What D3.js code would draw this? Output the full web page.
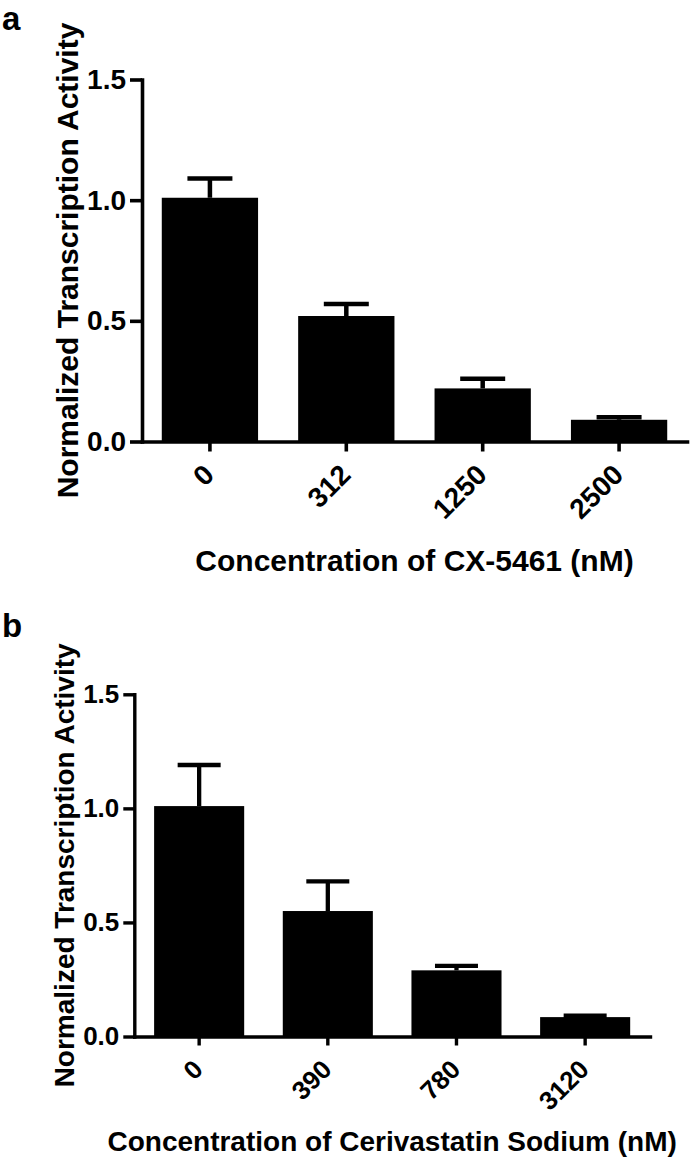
<!DOCTYPE html>
<html>
<head>
<meta charset="utf-8">
<script src="https://cdnjs.cloudflare.com/ajax/libs/d3/7.8.5/d3.min.js"></script>
<style>
  body { margin: 0; background: #fff; }
  svg text { font-family: "Liberation Sans", Arial, sans-serif; font-weight: bold; fill: #000; }
</style>
</head>
<body>
<div id="chart"></div>
<script>
// panel a: CX-5461
var concA = ["0", "312", "1250", "2500"];
var meanA = [1.01, 0.52, 0.22, 0.09];
var semA  = [0.08, 0.05, 0.04, 0.01];

// panel b: Cerivastatin Sodium
var concB = ["0", "390", "780", "3120"];
var meanB = [1.01, 0.55, 0.29, 0.085];
var semB  = [0.18, 0.13, 0.02, 0.006];

var yTicks = [0, 0.5, 1.0, 1.5];

var svg = d3.select("#chart")
  .append("svg")
    .attr("width", 690)
    .attr("height", 1159);

function drawPanel(p) {
  var g = svg.append("g");

  var x = d3.scaleBand()
    .domain(p.cats)
    .range([p.left, p.right])
    .paddingInner(p.padIn)
    .paddingOuter(p.padOut);

  var y = d3.scaleLinear()
    .domain([0, 1.5])
    .range([p.bottom, p.top]);

  var data = p.cats.map(function(c, i) { return {cat: c, mean: p.mean[i], err: p.err[i]}; });

  // bars
  g.selectAll("rect.bar")
    .data(data)
    .enter()
    .append("rect")
      .attr("class", "bar")
      .attr("x", d => x(d.cat))
      .attr("width", x.bandwidth())
      .attr("y", d => y(d.mean))
      .attr("height", d => y(0) - y(d.mean))
      .style("fill", "#000");

  // error bars (upper only)
  g.selectAll("line.stem")
    .data(data)
    .enter()
    .append("line")
      .attr("x1", d => x(d.cat) + x.bandwidth() / 2)
      .attr("x2", d => x(d.cat) + x.bandwidth() / 2)
      .attr("y1", d => y(d.mean))
      .attr("y2", d => y(d.mean + d.err))
      .style("stroke", "#000")
      .style("stroke-width", p.errW);

  g.selectAll("line.cap")
    .data(data)
    .enter()
    .append("line")
      .attr("x1", d => x(d.cat) + x.bandwidth() / 2 - p.capW / 2)
      .attr("x2", d => x(d.cat) + x.bandwidth() / 2 + p.capW / 2)
      .attr("y1", d => y(d.mean + d.err))
      .attr("y2", d => y(d.mean + d.err))
      .style("stroke", "#000")
      .style("stroke-width", p.errW);

  // Y axis
  var yAxis = g.append("g")
    .attr("transform", "translate(" + p.left + ",0)")
    .call(d3.axisLeft(y).tickValues(yTicks).tickFormat(d3.format(".1f"))
      .tickSize(p.tickLen).tickSizeOuter(0).tickPadding(4));

  // X axis
  var xAxis = g.append("g")
    .attr("transform", "translate(0," + p.bottom + ")")
    .call(d3.axisBottom(x).tickSize(p.tickLen - 2).tickSizeOuter(0));

  [yAxis, xAxis].forEach(function(ax) {
    ax.select(".domain").style("stroke", "#000").style("stroke-width", p.axisW).style("stroke-linecap", "square");
    ax.selectAll(".tick line").style("stroke", "#000").style("stroke-width", p.axisW);
    ax.selectAll("text").style("font-size", p.tickFont + "px").style("font-family", null);
  });

  xAxis.selectAll("text")
    .attr("text-anchor", "end")
    .attr("y", 0)
    .attr("dy", "0.35em")
    .attr("transform", "translate(" + p.xLabDx + "," + p.xLabDy + ") rotate(-45)");

  // axis titles
  g.append("text")
    .attr("x", (p.left + p.right) / 2)
    .attr("y", p.xTitleY)
    .attr("text-anchor", "middle")
    .style("font-size", p.titleFont + "px")
    .text(p.xTitle);

  g.append("text")
    .attr("transform", "translate(" + p.yTitleX + "," + (p.top + p.bottom) / 2 + ") rotate(-90)")
    .attr("text-anchor", "middle")
    .style("font-size", p.titleFont + "px")
    .text("Normalized Transcription Activity");

  // panel letter
  g.append("text")
    .attr("x", 2)
    .attr("y", p.letterY)
    .style("font-size", "33px")
    .text(p.letter);
}

drawPanel({
  cats: concA, mean: meanA, err: semA,
  left: 142, right: 687, top: 79.5, bottom: 441.5,
  padIn: 0.294, padOut: 0.145,
  errW: 4.5, capW: 45, axisW: 3.6, tickLen: 12,
  tickFont: 28, titleFont: 30,
  xLabDx: -1, xLabDy: 28,
  xTitle: "Concentration of CX-5461 (nM)", xTitleY: 571,
  yTitleX: 78, letter: "a", letterY: 30
});

drawPanel({
  cats: concB, mean: meanB, err: semB,
  left: 134.3, right: 650, top: 694.3, bottom: 1036.5,
  padIn: 0.3, padOut: 0.154,
  errW: 4.3, capW: 43, axisW: 3.4, tickLen: 11,
  tickFont: 26, titleFont: 28,
  xLabDx: -1, xLabDy: 28,
  xTitle: "Concentration of Cerivastatin Sodium (nM)", xTitleY: 1151,
  yTitleX: 74, letter: "b", letterY: 637
});
</script>
</body>
</html>
